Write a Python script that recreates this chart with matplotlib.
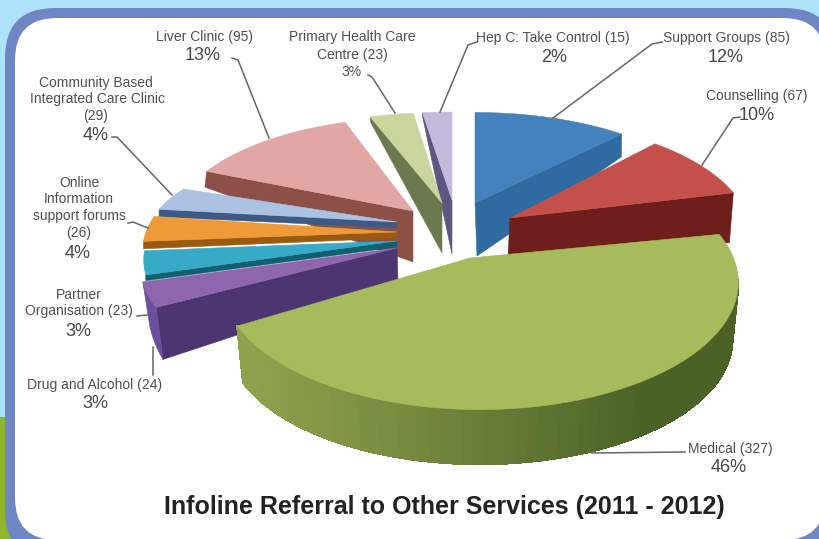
import numpy as np
import matplotlib
matplotlib.use('Agg')
import matplotlib.pyplot as plt
from matplotlib.patches import FancyBboxPatch, Polygon, Rectangle

plt.rcParams['font.family'] = ['Liberation Sans', 'DejaVu Sans']

# Referral counts, clockwise from twelve o'clock
services = ['Support Groups', 'Counselling', 'Medical', 'Drug and Alcohol', 'Partner Organisation',
            'Online Information support forums', 'Community Based Integrated Care Clinic',
            'Liver Clinic', 'Primary Health Care Centre', 'Hep C: Take Control']
counts = [85, 67, 327, 24, 23, 26, 29, 95, 23, 15]
percents = [12, 10, 46, 3, 3, 4, 4, 13, 3, 2]

# Angles of each wedge in degrees
edges = np.concatenate([[0], np.cumsum(counts)]) / sum(counts) * 360

# Colours: top face, side face
top_colors = ['#4382bd', '#c4504c', '#a5bb5c', '#8d66ad', '#36aac6',
              '#ef9a38', '#abc2e3', '#e0a7a5', '#c8d69d', '#c4b9dc']
side_colors = ['#2f6aa0', '#6e1f1c', '#6f8a3c', '#4c3570', '#125f70',
               '#9a5a10', '#3d5a85', '#8c5047', '#6a7a4e', '#5e5580']

# Exploded slices under perspective: apex x, apex y, radius x, radius y
top_planes = [(475, 203, 241, 105), (510, 218, 238, 113), (480, 262, 255, 124),
              (397, 248, 253, 115), (397, 241, 250, 115), (397, 232, 251, 110),
              (397, 222, 246, 90), (413, 211, 238, 108), (442, 203, 252, 105),
              (452, 200, 260, 102)]
bottom_planes = [(477, 256, 237, 151), (508, 257, 236, 64), (480, 320, 249, 121),
                 (398, 282, 247, 150), (397, 247, 250, 114), (397, 238, 251, 127),
                 (397, 228, 246, 79), (413, 262, 240, 204), (442, 253, 250, 159),
                 (452, 254, 260, 161)]
# Which radial edge shows a side wall (0 start, 1 end)
wall_edge = [1, 1, None, 0, 0, 0, 0, 0, 0, 0]
# Back to front
draw_order = [9, 8, 0, 7, 6, 5, 4, 3, 1, 2]
PERSP = 0.16
MEDICAL_TIP = (470, 258)
# The front wall only shows past this angle, the face hides the rest
WALL_FROM = 98


def rim_point(plane, deg):
    ax_, ay_, rx, ry = plane
    t = np.radians(deg)
    s = 1 / (1 + PERSP * np.cos(t))
    return ax_ + rx * np.sin(t) * s, ay_ - ry * np.cos(t) * s


def arc(plane, a0, a1, n=60):
    return [rim_point(plane, d) for d in np.linspace(a0, a1, n)]


fig = plt.figure(figsize=(8.19, 5.39), dpi=100)
ax = fig.add_axes([0, 0, 1, 1])
ax.set_xlim(0, 819)
ax.set_ylim(539, 0)
ax.axis('off')

# Page background and rounded panel
ax.add_patch(Rectangle((0, 0), 819, 539, fc='#aee1fa', ec='none', zorder=0))
ax.add_patch(Rectangle((0, 417), 55, 122, fc='#8db52e', ec='none', zorder=0.1))
ax.add_patch(Rectangle((785, 500), 34, 39, fc='#8db52e', ec='none', zorder=0.1))
ax.add_patch(FancyBboxPatch((55, 58), 730, 452, boxstyle='round,pad=50,rounding_size=50',
                            fc='#6f85c4', ec='none', zorder=0.2))
ax.add_patch(FancyBboxPatch((55, 58), 730, 442, boxstyle='round,pad=40,rounding_size=42',
                            fc='white', ec='none', zorder=0.3))

# Pie slices
z = 1
for i in draw_order:
    a0, a1 = edges[i], edges[i + 1]
    top = top_planes[i]
    bottom = bottom_planes[i]

    if wall_edge[i] is not None:
        deg = a1 if wall_edge[i] else a0
        wall = [top[:2], rim_point(top, deg), rim_point(bottom, deg), bottom[:2]]
        ax.add_patch(Polygon(wall, closed=True, fc=side_colors[i], ec=side_colors[i], lw=0.4, zorder=z))

    tip = top[:2]
    if services[i] == 'Medical':
        tip = MEDICAL_TIP
        # front wall shades from olive on the left to dark green on the right
        light = np.array(matplotlib.colors.to_rgb('#8fa24e'))
        dark = np.array(matplotlib.colors.to_rgb('#4a6226'))
        steps = np.linspace(a1, WALL_FROM, 70)
        x_lo, x_hi = rim_point(top, a1)[0], 735
        for d0, d1 in zip(steps[:-1], steps[1:]):
            q = [rim_point(top, d0), rim_point(top, d1), rim_point(bottom, d1), rim_point(bottom, d0)]
            f = np.clip((q[0][0] - x_lo) / (x_hi - x_lo), 0, 1) ** 1.1
            c = light + (dark - light) * min(f * 1.25, 1)
            ax.add_patch(Polygon(q, closed=True, fc=c, ec=c, lw=1.0, antialiased=False, zorder=z))
    if services[i] == 'Drug and Alcohol':
        rim = arc(top, a0, a1, 12) + arc(bottom, a1, a0, 12)
        ax.add_patch(Polygon(rim, closed=True, fc='#6a4f9a', ec='#6a4f9a', lw=0.4, zorder=z))

    face = [tip] + arc(top, a0, a1)
    ax.add_patch(Polygon(face, closed=True, fc=top_colors[i], ec=top_colors[i], lw=0.4, zorder=z + 0.1))
    z += 1

# Leader lines
leaders = [([232, 238, 269], [58, 60, 138]),
           ([368, 372, 395], [75, 77, 113]),
           ([477, 468, 440], [42, 45, 112]),
           ([662, 652, 553], [42, 44, 118]),
           ([740, 733, 702], [117, 118, 165]),
           ([112, 117, 172], [137, 137, 195]),
           ([128, 133, 148], [223, 222, 228]),
           ([137, 147], [316, 315]),
           ([153, 153], [375, 347]),
           ([685, 592], [452, 453])]
for xs, ys in leaders:
    ax.plot(xs, ys, color='#666666', lw=1.1, zorder=30)

# Category labels
small = dict(ha='center', va='center', fontsize=10, color='#505050', zorder=40)
big = dict(ha='center', va='center', fontsize=13, color='#484848', zorder=40)

ax.text(205, 37, f'Liver Clinic ({counts[7]})', **small)
ax.text(203, 56, f'{percents[7]}%', **big)
ax.text(352, 37, 'Primary Health Care', **small)
ax.text(352, 55, f'Centre ({counts[8]})', **small)
ax.text(351, 72, f'{percents[8]}%', **small)
ax.text(553, 38, f'Hep C: Take Control ({counts[9]})', **small)
ax.text(554, 57, f'{percents[9]}%', **big)
ax.text(726, 38, f'Support Groups ({counts[0]})', **small)
ax.text(726, 57, f'{percents[0]}%', **big)
ax.text(757, 96, f'Counselling ({counts[1]})', **small)
ax.text(757, 115, f'{percents[1]}%', **big)
ax.text(96, 83, 'Community Based', **small)
ax.text(97, 99, 'Integrated Care Clinic', **small)
ax.text(96, 116, f'({counts[6]})', **small)
ax.text(96, 135, f'{percents[6]}%', **big)
ax.text(80, 183, 'Online', **small)
ax.text(79, 199, 'Information', **small)
ax.text(79, 216, 'support forums', **small)
ax.text(79, 233, f'({counts[5]})', **small)
ax.text(78, 254, f'{percents[5]}%', **big)
ax.text(79, 295, 'Partner', **small)
ax.text(79, 311, f'Organisation ({counts[4]})', **small)
ax.text(78, 331, f'{percents[4]}%', **big)
ax.text(95, 385, f'Drug and Alcohol ({counts[3]})', **small)
ax.text(95, 404, f'{percents[3]}%', **big)
ax.text(730, 449, f'Medical ({counts[2]})', **small)
ax.text(729, 467, f'{percents[2]}%', **big)

ax.text(444, 507, 'Infoline Referral to Other Services (2011 - 2012)', ha='center', va='center',
        fontsize=18, fontweight='bold', color='#222222', zorder=40)

fig.savefig('out.png', dpi=100)
